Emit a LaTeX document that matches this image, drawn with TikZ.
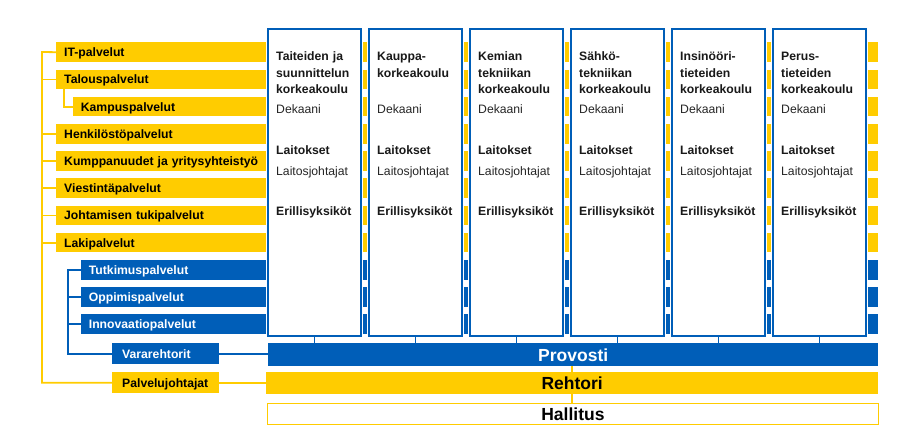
\documentclass[tikz,border=0pt]{standalone}
\usepackage{fontspec}
\setmainfont{Liberation Sans}
\usetikzlibrary{positioning}
\definecolor{AaltoKeltainen}{HTML}{FFCC00}
\definecolor{AaltoSininen}{HTML}{005EB8}
\tikzset{
    MyCoords/.style={x=1pt,y=-1pt},
    MyBar/.style={fill=AaltoKeltainen,anchor=north west,minimum height=19.6pt,
    inner xsep=8pt,inner ysep=0pt,align=left,text height=8.8pt,text depth=0pt,
    font=\bfseries\fontsize{12.2}{14}\selectfont},
    MyBlueBar/.style={MyBar,fill=AaltoSininen,text=white},
    MyBig/.style={align=center,text height=12.6pt,text depth=0pt,
    font=\bfseries\fontsize{17.5}{20}\selectfont},
    MySchool/.style={fill=white,draw=AaltoSininen,line width=2pt,anchor=north west,
    minimum width=93pt,minimum height=307pt,inner sep=0pt,outer sep=0pt,
    preaction={draw=white,line width=3.6pt}},
    MyText/.style={anchor=base west,inner sep=0pt,align=left,text width=86pt,
    text=black!85,font=\fontsize{12.2}{16.7}\selectfont}    }

\begin{document}
\begin{tikzpicture}[MyCoords,
    MyLine/.style={draw=AaltoKeltainen,line width=1.8pt},
    MyBlueLine/.style={draw=AaltoSininen,line width=2pt}]
    \def\oikea{878}% right edge of the bars
    \def\palkki{27.2}% pitch of the bars
    \useasboundingbox (0,0) rectangle (914,445);

    % yellow service bars
    \foreach \nimi/\teksti/\x [count=\k from 0] in {it/IT-palvelut/56,
      talous/Talouspalvelut/56, kampus/Kampuspalvelut/72.7,
      henkilo/Henkilöstöpalvelut/56, kumppanuus/Kumppanuudet ja yritysyhteistyö/56,
      viestinta/Viestintäpalvelut/56, johtaminen/Johtamisen tukipalvelut/56,
      laki/Lakipalvelut/56}
    {
    \pgfmathsetmacro\leveys{\oikea-\x-16}
    \node[MyBar,text width=\leveys pt] (\nimi) at (\x,{42.2+\k*\palkki}) {\teksti};
    }
    % blue service bars
    \foreach \nimi/\teksti [count=\k from 8] in {tutkimus/Tutkimuspalvelut,
      oppimis/Oppimispalvelut, innovaatio/Innovaatiopalvelut}
    {
    \pgfmathsetmacro\leveys{\oikea-80.7-16}
    \node[MyBlueBar,text width=\leveys pt] (\nimi) at (80.7,{42.2+\k*\palkki}) {\teksti};
    }

    \node[MyBlueBar,text width=87pt,inner xsep=10pt,minimum height=21pt] (vr) at (112,343) {Vararehtorit};
    \node[MyBar,text width=87pt,inner xsep=10pt,minimum height=21pt] (pj) at (112,372) {Palvelujohtajat};
    \node[MyBlueBar,MyBig,minimum width=610pt,minimum height=23pt] (provosti) at (268,343) {Provosti};
    \node[MyBar,MyBig,minimum width=612pt,minimum height=22pt] (rehtori) at (266,372) {Rehtori};
    \node[MyBar,MyBig,fill=white,draw=AaltoKeltainen,line width=1.5pt,
      minimum width=611pt,minimum height=21pt] (hallitus) at (266.7,402.7) {Hallitus};

    % schools
    \foreach \nimi [count=\i] in {{Taiteiden ja\\suunnittelun\\korkeakoulu},
      {Kauppa-\\korkeakoulu}, {Kemian\\tekniikan\\korkeakoulu},
      {Sähkö-\\tekniikan\\korkeakoulu}, {Insinööri-\\tieteiden\\korkeakoulu},
      {Perus-\\tieteiden\\korkeakoulu}}
    {
    \node[MySchool] (k\i) at ({268+101*(\i-1)},29) {};
    \node[MyText,font=\bfseries\fontsize{12.2}{16.7}\selectfont,text=black!90] (k\i-nimi)
      at ([shift={(8,31.5)}]k\i.north west) {\nimi};
    \node[MyText] (k\i-dek) at ([shift={(8,84.7)}]k\i.north west) {Dekaani};
    \node[MyText,font=\bfseries\fontsize{12.2}{16.7}\selectfont,text=black!90] (k\i-lai)
      at ([shift={(8,125.5)}]k\i.north west) {Laitokset};
    \node[MyText] (k\i-joht) at ([shift={(8,146)}]k\i.north west) {Laitosjohtajat};
    \node[MyText,font=\bfseries\fontsize{12.2}{16.7}\selectfont,text=black!90] (k\i-eri)
      at ([shift={(8,186.5)}]k\i.north west) {Erillisyksiköt};
    \draw[MyBlueLine,line width=1.5pt] (k\i.south) -- (k\i.south |- provosti.north);
    }

    % connectors on the left
    \coordinate (runko) at (42,52);
    \coordinate (vrunko) at (68,0);
    \draw[MyLine] (pj.west) -| (runko) -- (it.west);
    \foreach \nimi in {talous,henkilo,kumppanuus,viestinta,johtaminen,laki}
        \draw[MyLine] (\nimi.west) -- (\nimi.west -| runko);
    \draw[MyLine] ([xshift=8pt]talous.south west) |- (kampus.west);
    \draw[MyBlueLine] (vr.west) -| (vrunko |- tutkimus.west) -- (tutkimus.west);
    \foreach \nimi in {oppimis,innovaatio}
        \draw[MyBlueLine] (\nimi.west) -- (\nimi.west -| vrunko);
    \draw[MyBlueLine] (vr.east) -- (vr.east -| provosti.west);
    \draw[MyLine] (pj.east) -- (pj.east -| rehtori.west);
    \draw[MyLine] (rehtori.north) -- (rehtori.north |- provosti.south);
    \draw[MyLine] (rehtori.south) -- (rehtori.south |- hallitus.north);
\end{tikzpicture}
\end{document}
